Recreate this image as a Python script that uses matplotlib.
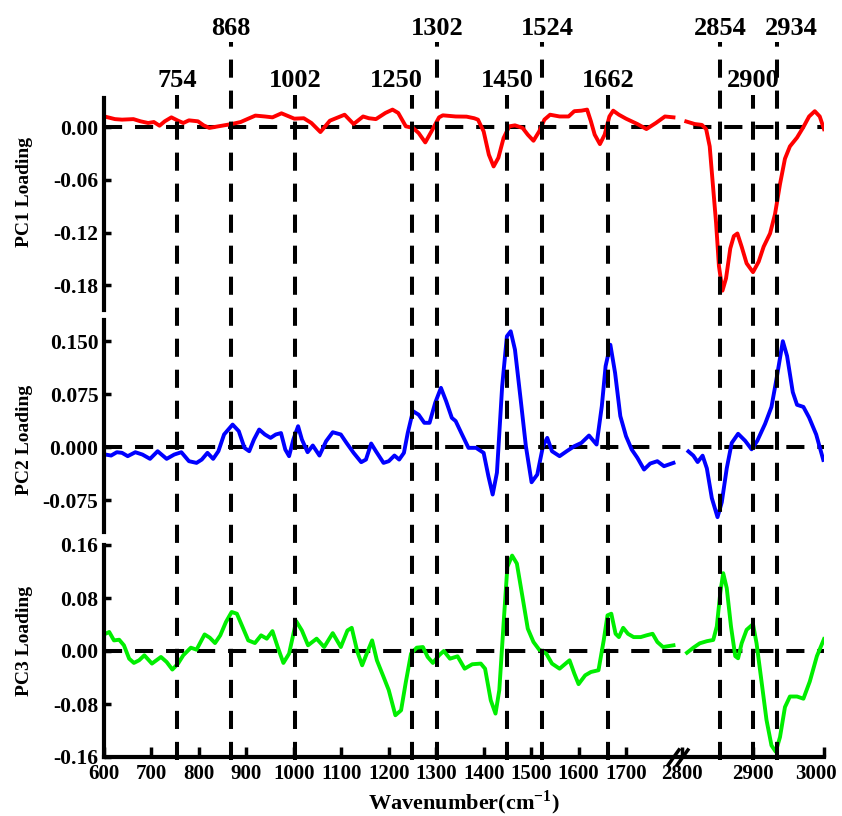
import numpy as np
import matplotlib
matplotlib.use("Agg")
import matplotlib.pyplot as plt
import matplotlib.transforms as mtransforms
from matplotlib.ticker import FormatStrFormatter

# ---- data ----
wn_pc1_left = [601, 623, 638, 662, 677, 693, 705, 717, 728, 742, 756, 767, 779, 798, 810, 822, 841, 869, 888, 904,
               919, 939, 955, 974, 990, 1001, 1021, 1037, 1056, 1076, 1107, 1126, 1146, 1158, 1173, 1193, 1208, 1220,
               1236, 1251, 1263, 1277, 1290, 1306, 1314, 1341, 1364, 1380, 1388, 1400, 1411, 1421, 1431, 1442, 1454,
               1466, 1482, 1493, 1505, 1517, 1528, 1540, 1560, 1579, 1591, 1606, 1618, 1626, 1634, 1645, 1655, 1665,
               1673, 1685, 1700, 1724, 1743, 1763, 1782, 1800]
pc1_left = [0.012, 0.009, 0.0084, 0.009, 0.0065, 0.0046, 0.0057, 0.0015, 0.0065, 0.011, 0.0072, 0.0046, 0.0076,
            0.0065, 0.0019, -0.001, 0.0008, 0.0034, 0.0057, 0.0095, 0.013, 0.012, 0.011, 0.0156, 0.012, 0.0095, 0.010,
            0.0046, -0.0057, 0.0072, 0.014, 0.0034, 0.012, 0.010, 0.009, 0.016, 0.0198, 0.016, 0.0008, -0.001,
            -0.0068, -0.0175, -0.005, 0.011, 0.0133, 0.012, 0.0118, 0.010, 0.0084, -0.005, -0.0315, -0.0448, -0.035,
            -0.0125, 0.0008, 0.0019, -0.001, -0.0087, -0.0156, -0.005, 0.0084, 0.014, 0.012, 0.012, 0.018, 0.0186,
            0.0198, 0.0065, -0.0087, -0.0194, -0.0087, 0.012, 0.0186, 0.014, 0.0095, 0.0034, -0.0023, 0.0046, 0.012,
            0.011]
wn_pc1_right = [2806, 2818, 2828, 2834, 2839, 2843, 2848, 2852, 2857, 2862, 2868, 2873, 2878, 2884, 2891, 2900, 2908,
                2915, 2924, 2931, 2938, 2945, 2952, 2962, 2971, 2979, 2987, 2994, 3000]
pc1_right = [0.0063, 0.0034, 0.0024, -0.0024, -0.022, -0.061, -0.109, -0.158, -0.186, -0.172, -0.138, -0.124, -0.121,
             -0.136, -0.155, -0.165, -0.153, -0.136, -0.121, -0.099, -0.065, -0.036, -0.022, -0.012, 0.0, 0.012,
             0.018, 0.012, -0.0024]

wn_pc2_left = [603, 615, 627, 638, 650, 666, 681, 697, 713, 732, 748, 763, 779, 795, 806, 818, 830, 841, 853, 871,
               884, 896, 906, 916, 927, 939, 951, 962, 973, 982, 990, 999, 1009, 1017, 1029, 1040, 1054, 1068, 1082,
               1099, 1111, 1126, 1142, 1152, 1163, 1173, 1189, 1200, 1212, 1222, 1232, 1240, 1251, 1263, 1275, 1286,
               1298, 1310, 1321, 1333, 1341, 1353, 1368, 1384, 1400, 1410, 1419, 1428, 1439, 1449, 1457, 1466, 1478,
               1489, 1501, 1513, 1525, 1534, 1544, 1560, 1575, 1591, 1606, 1622, 1638, 1649, 1657, 1667, 1677, 1688,
               1700, 1712, 1724, 1738, 1751, 1766, 1780, 1800]
pc2_left = [-0.0104, -0.0118, -0.0071, -0.008, -0.0127, -0.0071, -0.0104, -0.0165, -0.0057, -0.0165, -0.0104,
            -0.0071, -0.0198, -0.0222, -0.0175, -0.008, -0.0165, -0.0057, 0.018, 0.032, 0.0227, -0.0009, -0.0057,
            0.0109, 0.025, 0.018, 0.0132, 0.018, 0.020, -0.0033, -0.0127, 0.0109, 0.0297, 0.0109, -0.0071, 0.0024,
            -0.0118, 0.0085, 0.0212, 0.018, 0.0061, -0.008, -0.0212, -0.0175, 0.0052, -0.0057, -0.0222, -0.0198,
            -0.0118, -0.0175, -0.008, 0.020, 0.051, 0.046, 0.0345, 0.0345, 0.063, 0.084, 0.065, 0.0415, 0.037, 0.020,
            -0.0009, -0.0009, -0.008, -0.041, -0.067, -0.036, 0.086, 0.157, 0.164, 0.138, 0.0675, 0.0014, -0.0496,
            -0.0387, 0.0014, 0.0132, -0.0057, -0.0127, -0.0057, 0.0014, 0.0061, 0.0165, 0.0038, 0.058, 0.1147, 0.145,
            0.105, 0.044, 0.0156, -0.0033, -0.0151, -0.0316, -0.0231, -0.0198, -0.0269, -0.0222]
wn_pc2_right = [2809, 2816, 2822, 2829, 2835, 2842, 2850, 2856, 2863, 2870, 2879, 2889, 2898, 2906, 2917, 2926, 2933,
                2942, 2948, 2956, 2962, 2971, 2979, 2989, 2994, 2999]
pc2_right = [-0.006, -0.012, -0.021, -0.012, -0.030, -0.072, -0.099, -0.078, -0.030, 0.006, 0.019, 0.009, -0.003,
             0.009, 0.033, 0.057, 0.096, 0.150, 0.129, 0.078, 0.060, 0.057, 0.042, 0.018, 0.0, -0.018]

wn_pc3_left = [603, 611, 621, 632, 642, 653, 663, 674, 685, 701, 720, 732, 744, 756, 767, 783, 795, 812, 823, 834,
               845, 857, 869, 880, 892, 904, 918, 931, 943, 955, 966, 978, 990, 1005, 1017, 1030, 1048, 1064, 1082,
               1099, 1113, 1122, 1134, 1144, 1155, 1165, 1175, 1189, 1200, 1214, 1226, 1236, 1247, 1259, 1272, 1282,
               1293, 1306, 1316, 1329, 1345, 1360, 1376, 1394, 1403, 1415, 1425, 1433, 1442, 1450, 1460, 1470, 1482,
               1493, 1505, 1517, 1532, 1544, 1560, 1571, 1581, 1591, 1600, 1614, 1626, 1642, 1653, 1661, 1669, 1678,
               1685, 1694, 1704, 1716, 1731, 1743, 1756, 1766, 1778, 1800]
pc3_left = [0.026, 0.0287, 0.016, 0.017, 0.0086, -0.0116, -0.018, -0.014, -0.0065, -0.019, -0.009, -0.0166, -0.028,
            -0.019, -0.0065, 0.005, 0.002, 0.025, 0.020, 0.012, 0.0236, 0.0438, 0.0589, 0.0563, 0.0362, 0.016, 0.012,
            0.0236, 0.0186, 0.030, 0.006, -0.018, -0.004, 0.045, 0.031, 0.0086, 0.0186, 0.006, 0.027, 0.006, 0.031,
            0.035, -0.0015, -0.0216, -0.0015, 0.016, -0.014, -0.039, -0.059, -0.097, -0.0895, -0.047, -0.004, 0.005,
            0.006, -0.009, -0.018, -0.0065, 0.0, -0.0116, -0.008, -0.0267, -0.020, -0.019, -0.0267, -0.0744, -0.0945,
            -0.059, 0.0412, 0.127, 0.144, 0.132, 0.081, 0.0337, 0.0136, 0.002, -0.004, -0.019, -0.0267, -0.020, -0.014,
            -0.034, -0.050, -0.0367, -0.0317, -0.029, 0.016, 0.0538, 0.0563, 0.026, 0.021, 0.035, 0.026, 0.021, 0.021,
            0.0236, 0.026, 0.0136, 0.006, 0.0086]
wn_pc3_right = [2807, 2816, 2825, 2835, 2844, 2849, 2854, 2858, 2863, 2869, 2875, 2879, 2884, 2891, 2900, 2905, 2912,
                2919, 2926, 2932, 2938, 2945, 2952, 2962, 2971, 2980, 2990, 3000]
pc3_right = [-0.0026, 0.005, 0.0116, 0.0148, 0.0167, 0.037, 0.0886, 0.1175, 0.095, 0.037, -0.0077, -0.011, 0.0116,
             0.032, 0.0405, 0.0116, -0.046, -0.104, -0.1425, -0.152, -0.130, -0.0847, -0.0687, -0.0687, -0.072, -0.046,
             -0.0077, 0.018]

peaks_upper = [868, 1302, 1524, 2854, 2934]
peaks_lower = [754, 1002, 1250, 1450, 1662, 2900]

x_ticks = [600, 700, 800, 900, 1000, 1100, 1200, 1300, 1400, 1500, 1600, 1700, 2800, 2900, 3000]
pc1_ticks = [0.0, -0.06, -0.12, -0.18]
pc2_ticks = [0.15, 0.075, 0.0, -0.075]
pc3_ticks = [0.16, 0.08, 0.0, -0.08, -0.16]

# ---- style ----
plt.rcParams['font.family'] = ['Liberation Serif', 'DejaVu Serif']
plt.rcParams['font.weight'] = 'bold'
plt.rcParams['axes.unicode_minus'] = False
plt.rcParams['mathtext.fontset'] = 'custom'
plt.rcParams['mathtext.rm'] = 'Liberation Serif:bold'
plt.rcParams['mathtext.bf'] = 'Liberation Serif:bold'


# broken x axis: 1800-2800 squeezed into a small gap, high range stretched
def fwd(x):
    x = np.asarray(x, dtype=float)
    return np.where(x <= 1800, x,
                    np.where(x >= 2800, 1818 + (x - 2800) * 1.496, 1800 + (x - 1800) * 0.018))


def inv(y):
    y = np.asarray(y, dtype=float)
    return np.where(y <= 1800, y,
                    np.where(y >= 1818, 2800 + (y - 1818) / 1.496, 1800 + (y - 1800) / 0.018))


W_PX, H_PX = 842, 816
fig = plt.figure(figsize=(W_PX / 100, H_PX / 100), dpi=100)

left, width, height = 104 / W_PX, 720 / W_PX, 212 / H_PX
bottoms_px = [310, 532, 757]   # bottom edge of each panel, px from top
axes = [fig.add_axes([left, 1 - b / H_PX, width, height]) for b in bottoms_px]
ax1, ax2, ax3 = axes

dash = (0, (4.5, 3.2))
panels = [
    (ax1, wn_pc1_left, pc1_left, wn_pc1_right, pc1_right, '#ff0000', (-0.208, 0.033), pc1_ticks, '%.2f',
     'PC1 Loading', 0.557),
    (ax2, wn_pc2_left, pc2_left, wn_pc2_right, pc2_right, '#0000ff', (-0.120, 0.180), pc2_ticks, '%.3f',
     'PC2 Loading', 0.434),
    (ax3, wn_pc3_left, pc3_left, wn_pc3_right, pc3_right, '#00ee00', (-0.160, 0.160), pc3_ticks, '%.2f',
     'PC3 Loading', 0.547),
]

for ax, xl, yl, xr, yr, col, ylim, yt, fmt, lab, lab_y in panels:
    ax.set_xscale('function', functions=(fwd, inv))
    ax.set_xlim(600, 3000)
    ax.set_ylim(*ylim)
    ax.axhline(0, color='k', lw=2.9, ls=dash, zorder=1)
    ax.plot(xl, yl, color=col, lw=2.8, solid_joinstyle='round', zorder=2)
    ax.plot(xr, yr, color=col, lw=2.8, solid_joinstyle='round', zorder=2)
    ax.set_yticks(yt)
    ax.yaxis.set_major_formatter(FormatStrFormatter(fmt))
    ax.tick_params(axis='y', direction='in', length=5, width=2.5, labelsize=15.5, pad=4)
    ax.set_ylabel(lab, fontsize=14, fontweight='bold')
    ax.yaxis.set_label_coords(-0.099, lab_y)
    for s in ['top', 'right']:
        ax.spines[s].set_visible(False)
    ax.spines['left'].set_linewidth(3)
    ax.patch.set_alpha(0)

for ax in (ax1, ax2):
    ax.spines['bottom'].set_visible(False)
    ax.tick_params(axis='x', which='both', bottom=False, labelbottom=False)

ax3.spines['bottom'].set_linewidth(3)
ax3.set_xticks(x_ticks)
ax3.set_xticklabels([str(t) for t in x_ticks])
ax3.xaxis.set_minor_locator(matplotlib.ticker.NullLocator())
ax3.tick_params(axis='x', direction='in', length=7, width=2.5, labelsize=15, pad=5)
ax3.set_xlabel('Wavenumber(cm$^{\\mathbf{-1}}$)', fontsize=16, fontweight='bold', labelpad=3)

# keep the last tick label inside the canvas
last = ax3.get_xticklabels()[-1]
last.set_transform(last.get_transform() + mtransforms.ScaledTranslation(-6 / 72, 0, fig.dpi_scale_trans))

# break marks on the x axis
ax3.plot([1800, 2800], [0, 0], transform=ax3.get_xaxis_transform(), ls='none', color='k',
         marker=[(-1, -1.4), (1, 1.4)], ms=13, mew=2.5, clip_on=False, zorder=5)


def yfrac(px):
    # pixel row (from the top of the figure) -> ax3 axes fraction
    return (757 - px) / 212


trans = ax3.get_xaxis_transform()
label_shift = {1250: -16, 1524: 5, 2934: 14}
for peaks, top_px, text_px in ((peaks_upper, 42, 29), (peaks_lower, 95, 81)):
    for p in peaks:
        ax3.plot([p, p], [yfrac(760), yfrac(top_px)], transform=trans, color='k', lw=2.9, ls=dash,
                 clip_on=False, zorder=4)
        t = mtransforms.offset_copy(trans, fig=fig, x=label_shift.get(p, 0), y=0, units='dots')
        ax3.text(p, yfrac(text_px), str(p), transform=t, ha='center', va='center', fontsize=19,
                 fontweight='bold')

fig.savefig('out.png', dpi=100)
